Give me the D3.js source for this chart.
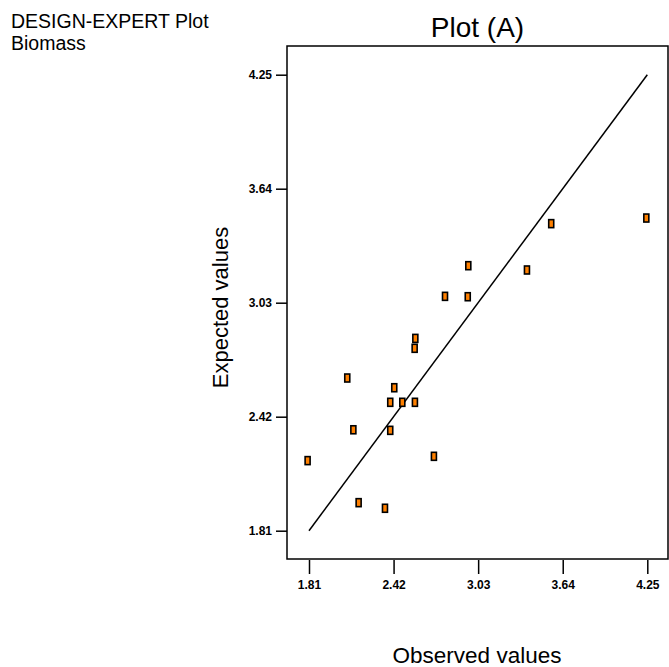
<!DOCTYPE html>
<html>
<head>
<meta charset="utf-8">
<script src="https://cdn.jsdelivr.net/npm/d3@7"></script>
<style>
  html, body { margin: 0; padding: 0; background: #fff; }
  svg { display: block; }
  text { font-family: "Liberation Sans", Arial, sans-serif; }
</style>
</head>
<body>
<svg id="chart" width="669" height="667"></svg>
<script>
// Observed (actual) and expected (predicted) Biomass values
const observed = [2.959, 3.382, 2.791, 2.955, 2.577, 2.572, 2.086, 2.425, 2.396, 2.483, 2.574, 2.130, 2.396, 1.800, 2.711, 2.168, 2.358, 3.557, 4.243];
const expected = [3.228, 3.205, 3.064, 3.062, 2.839, 2.786, 2.627, 2.575, 2.497, 2.497, 2.497, 2.350, 2.347, 2.185, 2.208, 1.960, 1.930, 3.453, 3.483];
const tickValues = [1.81, 2.42, 3.03, 3.64, 4.25];
const tickLabels = ["1.81", "2.42", "3.03", "3.64", "4.25"];
const domain = [1.81, 4.25];

const svg = d3.select("#chart");
const box = { left: 287, right: 668, top: 46, bottom: 559 };

const x = d3.scaleLinear().domain(domain).range([309, 647.3]);
const y = d3.scaleLinear().domain(domain).range([530.7, 74.7]);

// Header text
svg.append("text").attr("x", 11).attr("y", 28).attr("font-size", 19.5).attr("fill", "#000").text("DESIGN-EXPERT Plot");
svg.append("text").attr("x", 11).attr("y", 50).attr("font-size", 19.5).attr("fill", "#000").text("Biomass");

// Title
svg.append("text").attr("x", (box.left + box.right) / 2).attr("y", 37)
  .attr("text-anchor", "middle").attr("font-size", 28).text("Plot (A)");

// Frame
svg.append("rect")
  .attr("x", box.left).attr("y", box.top)
  .attr("width", box.right - box.left).attr("height", box.bottom - box.top)
  .attr("fill", "none").attr("stroke", "#000").attr("stroke-width", 1.5);

// X axis
const xAxis = d3.axisBottom(x).tickValues(tickValues)
  .tickFormat((d, i) => tickLabels[i]).tickSize(14).tickPadding(6);
const gx = svg.append("g").attr("transform", `translate(0,${box.bottom + 1})`).call(xAxis);
gx.select(".domain").remove();
gx.selectAll(".tick line").attr("stroke", "#000").attr("stroke-width", 1.5);
gx.selectAll(".tick text").attr("font-size", 12).attr("font-weight", "bold")
  .attr("font-family", "Liberation Sans, Arial, sans-serif").attr("fill", "#000");

// Y axis
const yAxis = d3.axisLeft(y).tickValues(tickValues)
  .tickFormat((d, i) => tickLabels[i]).tickSize(11).tickPadding(4);
const gy = svg.append("g").attr("transform", `translate(${box.left},0)`).call(yAxis);
gy.select(".domain").remove();
gy.selectAll(".tick line").attr("stroke", "#000").attr("stroke-width", 1.5);
gy.selectAll(".tick text").attr("font-size", 12).attr("font-weight", "bold")
  .attr("font-family", "Liberation Sans, Arial, sans-serif").attr("fill", "#000");

// Axis titles
svg.append("text").attr("x", 477).attr("y", 663).attr("text-anchor", "middle")
  .attr("font-size", 22.5).text("Observed values");
svg.append("text").attr("transform", `translate(228,307.5) rotate(-90)`)
  .attr("text-anchor", "middle").attr("font-size", 22).text("Expected values");

// Reference line y = x
svg.append("line")
  .attr("x1", x(domain[0])).attr("y1", y(domain[0]))
  .attr("x2", x(domain[1])).attr("y2", y(domain[1]))
  .attr("stroke", "#000").attr("stroke-width", 1.5);

// Points
const pts = observed.map((o, i) => ({ o, e: expected[i] }));
const mw = 5, mh = 8;
svg.append("g").selectAll("rect").data(pts).join("rect")
  .attr("x", d => x(d.o) - mw / 2).attr("y", d => y(d.e) - mh / 2)
  .attr("width", mw).attr("height", mh)
  .attr("fill", "#FF8000").attr("stroke", "#000").attr("stroke-width", 1.6);
</script>
</body>
</html>
